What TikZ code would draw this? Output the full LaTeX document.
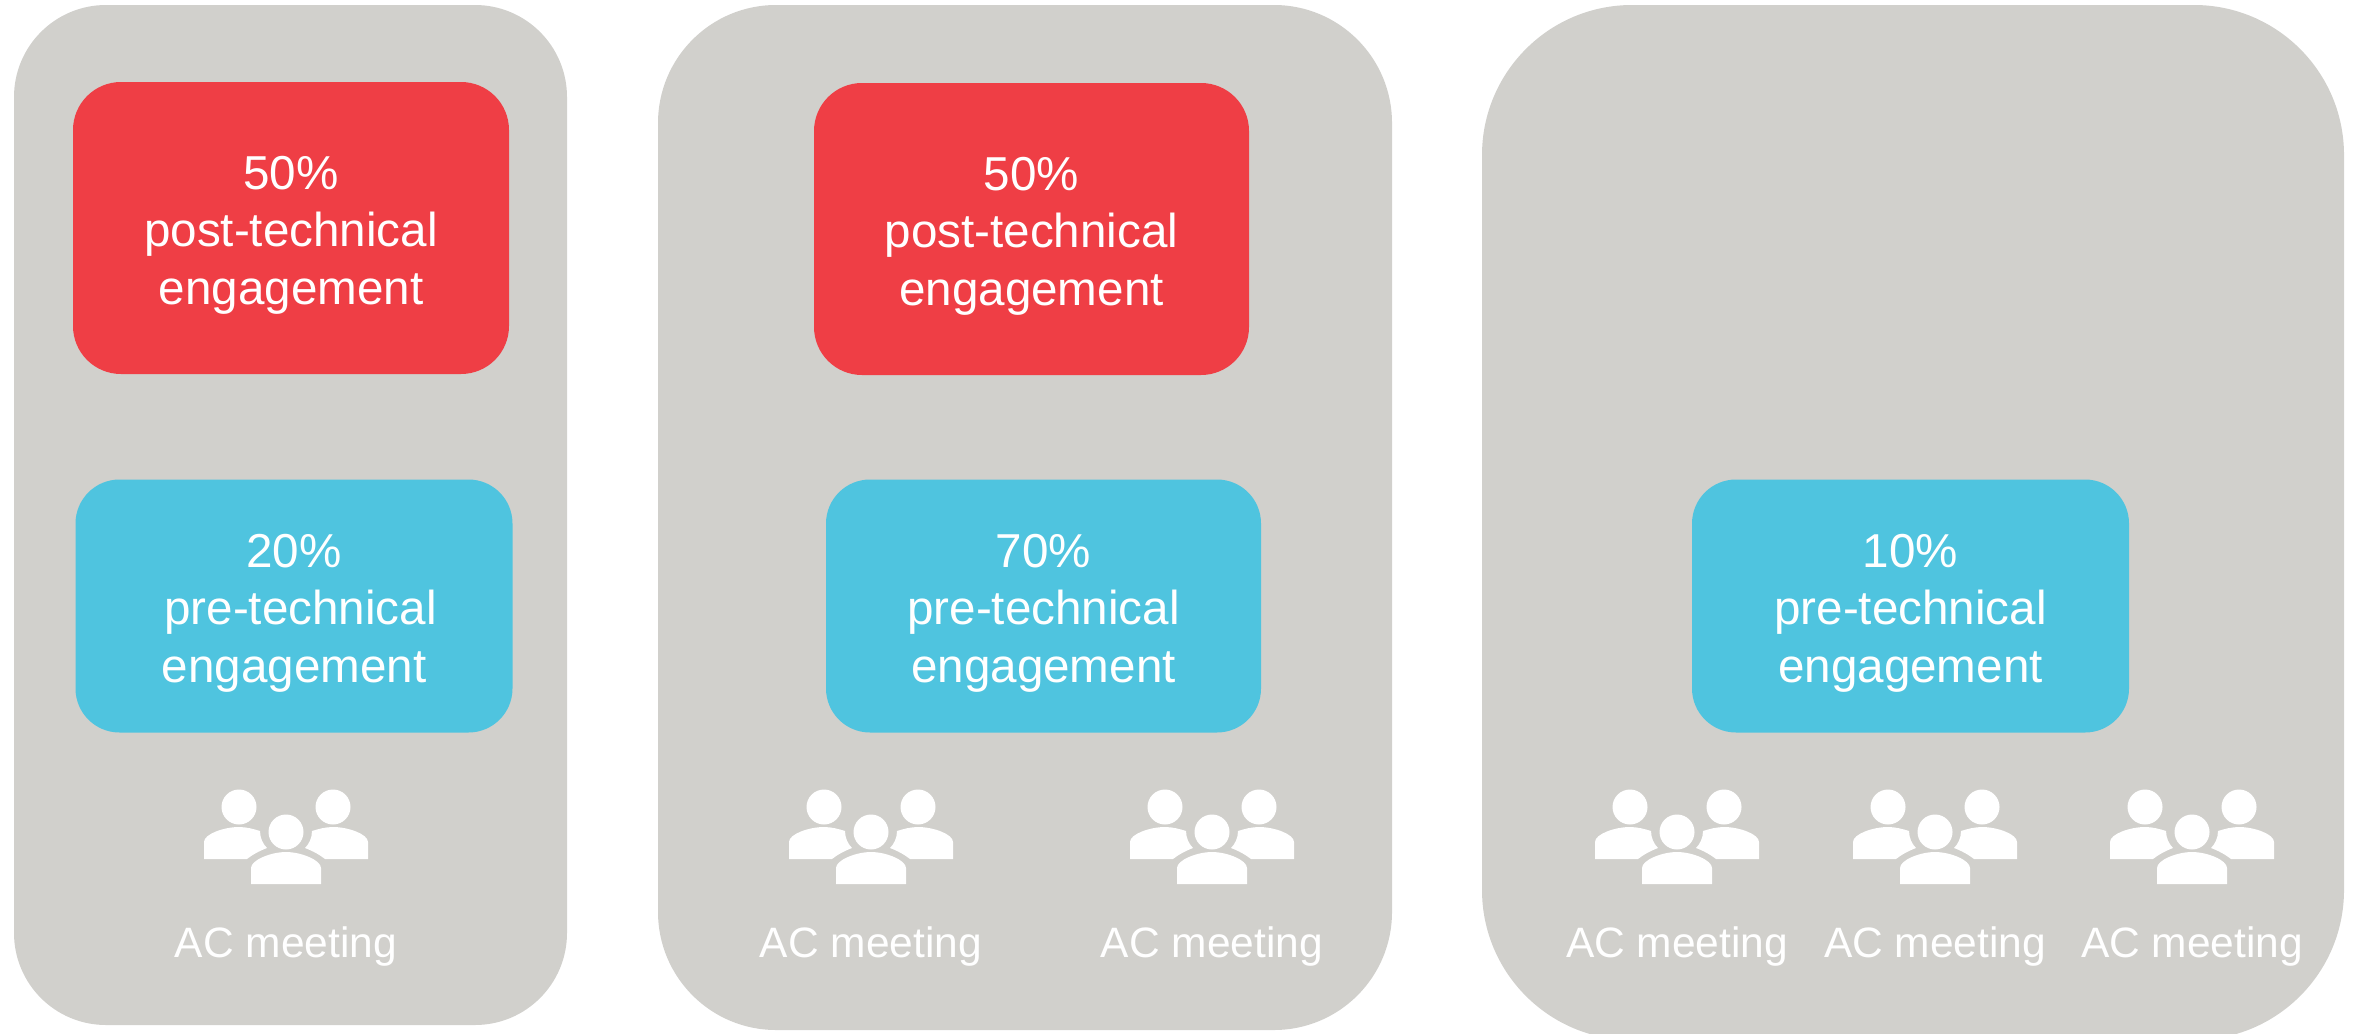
\documentclass[tikz,border=0pt]{standalone}
\usepackage{fontspec}
\setmainfont{Liberation Sans}
\definecolor{panelgrey}{HTML}{D1D0CC}
\definecolor{postred}{HTML}{EF3E45}
\definecolor{preblue}{HTML}{4FC4DF}
\tikzset{
  x=0.5pt,y=-0.5pt,
  boxbase/.style={rectangle,inner sep=0pt,outer sep=0pt,draw=none},
  panel/.style={boxbase,fill=panelgrey},
  engage/.style={boxbase,text=white,align=center,
    font=\fontsize{23.8pt}{28.7pt}\selectfont,
    text height=81.2pt,text depth=5pt,minimum height=146pt},
  postbox/.style={engage,fill=postred,rounded corners=24pt},
  prebox/.style={engage,fill=preblue,rounded corners=22pt,minimum height=126.5pt},
  aclabel/.style={boxbase,text=white,font=\fontsize{21.25pt}{26pt}\selectfont},
  pics/people/.style={code={
    \fill[white] (-47,-25) circle[radius=17.5];
    \fill[white] (47,-25) circle[radius=17.5];
    \fill[white] (0,0) circle[radius=17.5];
    \fill[white] (-35,52) -- (-35,36) .. controls (-35,28) and (-15,20) .. (0,20)
      .. controls (15,20) and (35,28) .. (35,36) -- (35,52) -- cycle;
    \fill[white] (-82,27) -- (-82,10) .. controls (-82,2) and (-62,-5) .. (-47,-5)
      .. controls (-40,-5) and (-32,-3) .. (-26,-1)
      .. controls (-26,6) and (-23,12) .. (-19,16)
      .. controls (-27,19) and (-34,23) .. (-39,27) -- cycle;
    \fill[white] (82,27) -- (82,10) .. controls (82,2) and (62,-5) .. (47,-5)
      .. controls (40,-5) and (32,-3) .. (26,-1)
      .. controls (26,6) and (23,12) .. (19,16)
      .. controls (27,19) and (34,23) .. (39,27) -- cycle;
  }}
}
\begin{document}
\begin{tikzpicture}
\clip (0,0) rectangle (2354,1033);
% panels
\node[panel,rounded corners=46pt,minimum width=276.5pt,minimum height=510pt] (panelA) at (290.5,515) {};
\node[panel,rounded corners=59pt,minimum width=367pt,minimum height=512.5pt] (panelB) at (1025,517.5) {};
\node[panel,rounded corners=75pt,minimum width=431pt,minimum height=517.5pt] (panelC) at (1913,522.5) {};
% red boxes
\node[postbox,minimum width=218pt] (postA) at (291,228) {50\%\\post-technical\\engagement};
\node[postbox,minimum width=217.5pt] (postB) at (1031.5,229) {50\%\\post-technical\\engagement};
% blue boxes
\node[prebox,minimum width=218.5pt] (preA) at (294,606) {20\%\\\hspace*{0.278em}pre-technical\\engagement};
\node[prebox,minimum width=217.5pt] (preB) at (1043.5,606) {70\%\\pre-technical\\engagement};
\node[prebox,minimum width=218.5pt] (preC) at (1910.5,606) {10\%\\pre-technical\\engagement};
% people icons
\pic at (286,832) {people};
\pic at (871,832) {people};
\pic at (1212,832) {people};
\pic at (1677,832) {people};
\pic at (1935,832) {people};
\pic at (2192,832) {people};
% labels
\node[aclabel] (acA) at (286,946) {AC meeting};
\node[aclabel] (acB) at (871,946) {AC meeting};
\node[aclabel] (acC) at (1212,946) {AC meeting};
\node[aclabel] (acD) at (1677,946) {AC meeting};
\node[aclabel] (acE) at (1935,946) {AC meeting};
\node[aclabel] (acF) at (2192,946) {AC meeting};
\end{tikzpicture}
\end{document}
